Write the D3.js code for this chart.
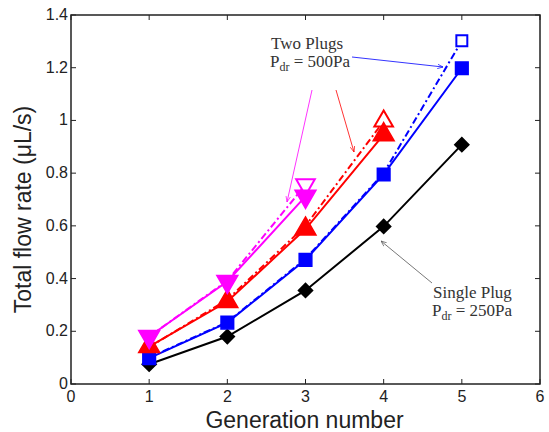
<!DOCTYPE html>
<html>
<head>
<meta charset="utf-8">
<script src="https://cdn.jsdelivr.net/npm/d3@7"></script>
<style>
  body { margin: 0; background: #fff; }
  .tick-label { font-family: "Liberation Sans", Arial, sans-serif; font-size: 16px; fill: #222; }
  .axis-label { font-family: "Liberation Sans", Arial, sans-serif; font-size: 23px; fill: #222; }
  .note { font-family: "Liberation Serif", "Times New Roman", serif; font-size: 17px; fill: #333; }
</style>
</head>
<body>
<svg id="chart" width="549" height="432"></svg>
<script>
// data
var generations = [1, 2, 3, 4, 5];
var singleBlack = [0.075, 0.18, 0.355, 0.598, 0.908];
var singleBlue = [0.098, 0.233, 0.471, 0.795, 1.198];
var twoBlue = [0.1, 0.235, 0.475, 0.8, 1.302];
var singleRed = [0.142, 0.313, 0.588, 0.946];
var twoRed = [0.14, 0.32, 0.6, 0.997];
var singleMagenta = [0.18, 0.389, 0.712];
var twoMagenta = [0.18, 0.392, 0.756];
var xTicks = [0, 1, 2, 3, 4, 5, 6];
var yTicks = [0, 0.2, 0.4, 0.6, 0.8, 1, 1.2, 1.4];

var svg = d3.select('#chart');
var pad = {t: 15, r: 9, b: 48, l: 71};
var w = 549 - pad.l - pad.r;
var h = 432 - pad.t - pad.b;

var x = d3.scaleLinear().domain([0, 6]).range([pad.l, pad.l + w]);
var y = d3.scaleLinear().domain([0, 1.4]).range([pad.t + h, pad.t]);

// frame
svg.append('rect')
  .attr('x', pad.l).attr('y', pad.t)
  .attr('width', w).attr('height', h)
  .attr('fill', 'none').attr('stroke', '#222').attr('stroke-width', 1.5);

// ticks pointing inward on all four sides
var tk = 5;
var tickG = svg.append('g').attr('stroke', '#222').attr('stroke-width', 1);
xTicks.forEach(function(d) {
  tickG.append('line').attr('x1', x(d)).attr('x2', x(d)).attr('y1', pad.t + h).attr('y2', pad.t + h - tk);
  tickG.append('line').attr('x1', x(d)).attr('x2', x(d)).attr('y1', pad.t).attr('y2', pad.t + tk);
});
yTicks.forEach(function(d) {
  tickG.append('line').attr('x1', pad.l).attr('x2', pad.l + tk).attr('y1', y(d)).attr('y2', y(d));
  tickG.append('line').attr('x1', pad.l + w).attr('x2', pad.l + w - tk).attr('y1', y(d)).attr('y2', y(d));
});

svg.selectAll('.xt').data(xTicks).enter().append('text')
  .attr('class', 'tick-label')
  .attr('x', function(d) { return x(d); })
  .attr('y', pad.t + h + 18)
  .attr('text-anchor', 'middle')
  .text(function(d) { return d; });

svg.selectAll('.yt').data(yTicks).enter().append('text')
  .attr('class', 'tick-label')
  .attr('x', pad.l - 3)
  .attr('y', function(d) { return y(d) + 5; })
  .attr('text-anchor', 'end')
  .text(function(d) { return d; });

svg.append('text').attr('class', 'axis-label')
  .attr('x', x(3) - 1).attr('y', 428)
  .attr('text-anchor', 'middle')
  .attr('font-size', 24)
  .text('Generation number');

svg.append('text').attr('class', 'axis-label')
  .attr('transform', 'translate(31,' + (pad.t + h / 2 + 10) + ') rotate(-90)')
  .attr('text-anchor', 'middle')
  .text('Total flow rate (\u03bcL/s)');

var line = d3.line()
  .x(function(d, i) { return x(generations[i]); })
  .y(function(d) { return y(d); });

function drawSeries(vals, color, symbol, size, rot) {
  var g = svg.append('g');
  g.append('path')
    .attr('d', line(vals))
    .attr('fill', 'none')
    .attr('stroke', color)
    .attr('stroke-width', 2);
  var sym = d3.symbol().type(symbol).size(size);
  g.selectAll('path.m').data(vals).enter().append('path')
    .attr('class', 'm')
    .attr('d', sym)
    .attr('transform', function(d, i) {
      return 'translate(' + x(generations[i]) + ',' + y(d) + ') rotate(' + rot + ')';
    })
    .attr('fill', color)
    .attr('stroke', color)
    .attr('stroke-width', 1.5);
  return g;
}

// dashed (two plugs) with open marker on the last point
function drawDashed(vals, color, symbol, size, rot) {
  var g = svg.append('g');
  g.append('path')
    .attr('d', line(vals))
    .attr('fill', 'none')
    .attr('stroke', color)
    .attr('stroke-width', 2)
    .attr('stroke-dasharray', '7,3,2,3');
  var last = vals.length - 1;
  g.append('path')
    .attr('d', d3.symbol().type(symbol).size(size)())
    .attr('transform', 'translate(' + x(generations[last]) + ',' + y(vals[last]) + ') rotate(' + rot + ')')
    .attr('fill', '#fff')
    .attr('stroke', color)
    .attr('stroke-width', 2);
}

drawDashed(twoBlue, '#0000ff', d3.symbolSquare, 120, 0);
drawDashed(twoRed, '#ff0000', d3.symbolTriangle, 150, 0);
drawDashed(twoMagenta, '#ff00ff', d3.symbolTriangle, 150, 180);

drawSeries(singleBlack, '#000', d3.symbolSquare, 100, 45);
drawSeries(singleBlue, '#0000ff', d3.symbolSquare, 160, 0);
drawSeries(singleRed, '#ff0000', d3.symbolTriangle, 190, 0);
drawSeries(singleMagenta, '#ff00ff', d3.symbolTriangle, 190, 180);

// annotations
svg.append('defs').selectAll('marker')
  .data([['ab', '#0000ff'], ['ar', '#ff0000'], ['am', '#ff00ff'], ['ak', '#555']])
  .enter().append('marker')
  .attr('id', function(d) { return d[0]; })
  .attr('viewBox', '0 0 10 10').attr('refX', 10).attr('refY', 5)
  .attr('markerWidth', 7).attr('markerHeight', 7).attr('orient', 'auto')
  .append('path').attr('d', 'M0,1 L10,5 L0,9')
  .attr('fill', 'none').attr('stroke', function(d) { return d[1]; }).attr('stroke-width', 1.2);

function arrow(x1, y1, x2, y2, color, id) {
  svg.append('line')
    .attr('x1', x1).attr('y1', y1).attr('x2', x2).attr('y2', y2)
    .attr('stroke', color).attr('stroke-width', 0.8)
    .attr('marker-end', 'url(#' + id + ')');
}
arrow(352, 57, 443, 67, '#0000ff', 'ab');
arrow(336, 90, 354, 152, '#ff0000', 'ar');
arrow(312, 90, 287, 202, '#ff00ff', 'am');
arrow(432, 283, 381, 241, '#555', 'ak');

function note(tx, ty, first, value) {
  svg.append('text').attr('class', 'note').attr('x', tx).attr('y', ty).text(first);
  var t = svg.append('text').attr('class', 'note').attr('x', tx - 1).attr('y', ty + 18);
  t.append('tspan').text('P');
  t.append('tspan').attr('dy', 4).attr('font-size', 12).text('dr');
  t.append('tspan').attr('dy', -4).text(' = ' + value);
}
note(271, 49, 'Two Plugs', '500Pa');
note(433, 298, 'Single Plug', '250Pa');
</script>
</body>
</html>
